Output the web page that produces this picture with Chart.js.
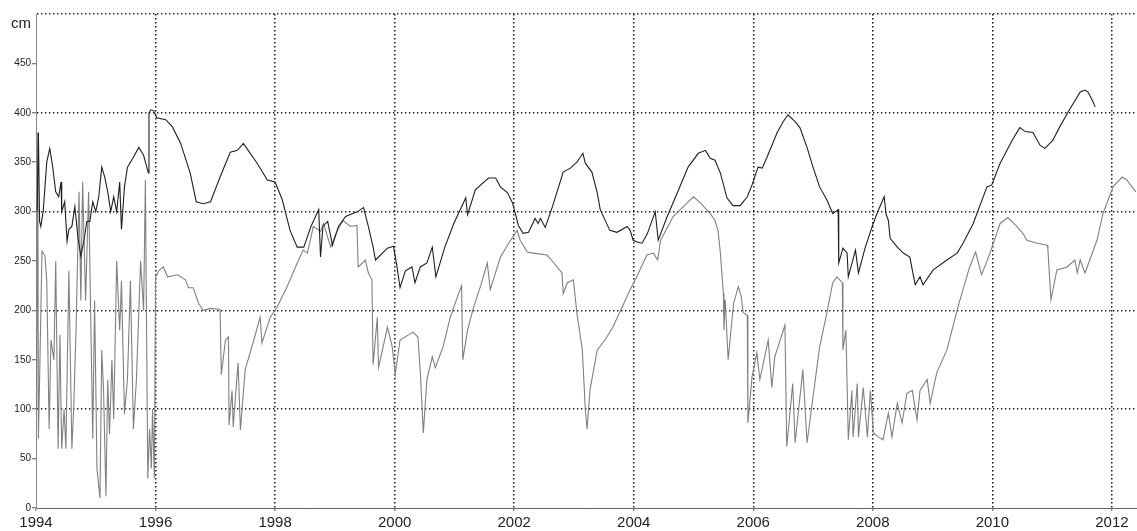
<!DOCTYPE html>
<html>
<head>
<meta charset="utf-8">
<script src="https://cdn.jsdelivr.net/npm/chart.js@4/dist/chart.umd.min.js"></script>
<style>
  html, body { margin: 0; padding: 0; background: #fff; }
  #wrap { width: 1137px; height: 531px; position: relative; }
</style>
</head>
<body>
<div id="wrap"><canvas id="levelChart"></canvas></div>
<script>
// axis ticks
const yearTicks = [1994, 1996, 1998, 2000, 2002, 2004, 2006, 2008, 2010, 2012];
const levelTicks = [0, 50, 100, 150, 200, 250, 300, 350, 400, 450, 500];

// upper (dark) series
const yearsUpper = [
  1994.02, 1994.04, 1994.06, 1994.08, 1994.12, 1994.18, 1994.23, 1994.28, 1994.33, 1994.38,
  1994.42, 1994.43, 1994.48, 1994.52, 1994.55, 1994.60, 1994.65, 1994.70, 1994.75, 1994.80,
  1994.85, 1994.90, 1994.95, 1995.00, 1995.05, 1995.10, 1995.15, 1995.20, 1995.25, 1995.30,
  1995.35, 1995.40, 1995.43, 1995.48, 1995.53, 1995.62, 1995.72, 1995.80, 1995.88, 1995.89,
  1995.92, 1995.97, 1996.02, 1996.17, 1996.28, 1996.42, 1996.58, 1996.68, 1996.80, 1996.92,
  1997.08, 1997.25, 1997.37, 1997.47, 1997.55, 1997.70, 1997.87, 1998.00, 1998.12, 1998.25,
  1998.37, 1998.48, 1998.60, 1998.73, 1998.76, 1998.80, 1998.88, 1998.96, 1999.06, 1999.18,
  1999.38, 1999.48, 1999.56, 1999.64, 1999.68, 1999.88, 1999.98, 2000.04, 2000.09, 2000.18,
  2000.29, 2000.34, 2000.43, 2000.54, 2000.63, 2000.69, 2000.84, 2000.99, 2001.19, 2001.22,
  2001.35, 2001.57, 2001.69, 2001.77, 2001.89, 2001.97, 2002.02, 2002.07, 2002.15, 2002.24,
  2002.35, 2002.40, 2002.44, 2002.52, 2002.64, 2002.82, 2002.94, 2003.05, 2003.15, 2003.19,
  2003.30, 2003.39, 2003.44, 2003.60, 2003.72, 2003.89, 2003.94, 2003.99, 2004.07, 2004.14,
  2004.23, 2004.36, 2004.41, 2004.56, 2004.73, 2004.91, 2005.08, 2005.20, 2005.28, 2005.36,
  2005.45, 2005.56, 2005.66, 2005.78, 2005.90, 2005.98, 2006.08, 2006.15, 2006.23, 2006.40,
  2006.50, 2006.58, 2006.70, 2006.78, 2006.90, 2007.00, 2007.11, 2007.23, 2007.33, 2007.42,
  2007.43, 2007.50, 2007.57, 2007.59, 2007.71, 2007.76, 2007.87, 2007.99, 2008.07, 2008.19,
  2008.22, 2008.26, 2008.29, 2008.41, 2008.51, 2008.62, 2008.67, 2008.71, 2008.79, 2008.84,
  2009.01, 2009.24, 2009.41, 2009.51, 2009.68, 2009.91, 2009.99, 2010.13, 2010.33, 2010.46,
  2010.55, 2010.68, 2010.80, 2010.88, 2011.01, 2011.13, 2011.27, 2011.47, 2011.55, 2011.60,
  2011.67, 2011.72
];
const levelsUpper = [
  300, 380, 290, 285, 300, 350, 364, 345, 320, 315,
  330, 300, 310, 270, 282, 285, 305, 275, 255, 270,
  290, 290, 310, 300, 315, 345, 335, 320, 300, 315,
  300, 330, 282, 325, 345, 354, 365, 357, 339, 400,
  403, 402, 395, 393, 386, 369, 339, 310, 308, 310,
  335, 360, 362, 369, 362, 349, 332, 330, 312, 281,
  264, 264, 285, 302, 254, 285, 290, 266, 285, 295,
  300, 304, 285, 264, 251, 263, 265, 244, 223, 240,
  244, 228, 244, 248, 264, 234, 264, 288, 314, 297,
  322, 334, 334, 325, 319, 309, 298, 286, 278, 279,
  293, 288, 293, 284, 305, 340, 344, 350, 359, 349,
  340, 319, 302, 281, 279, 285, 281, 271, 269, 268,
  278, 300, 271, 295, 319, 345, 359, 362, 354, 352,
  339, 314, 306, 306, 315, 327, 345, 344, 355, 380,
  391, 398, 391, 385, 365, 345, 325, 312, 298, 302,
  248, 263, 258, 234, 261, 238, 263, 285, 298, 315,
  298, 291, 273, 264, 258, 254, 238, 226, 234, 226,
  241, 251, 258, 268, 288, 325, 327, 349, 372, 385,
  381, 380, 367, 364, 372, 386, 401, 421, 423, 421,
  413, 406
];

// lower (grey) series
const yearsLower = [
  1994.01, 1994.03, 1994.04, 1994.06, 1994.10, 1994.15, 1994.18, 1994.22, 1994.25, 1994.30,
  1994.33, 1994.37, 1994.40, 1994.43, 1994.47, 1994.50, 1994.55, 1994.60, 1994.63, 1994.67,
  1994.72, 1994.75, 1994.78, 1994.83, 1994.88, 1994.95, 1994.98, 1995.02, 1995.07, 1995.10,
  1995.13, 1995.17, 1995.20, 1995.23, 1995.27, 1995.30, 1995.35, 1995.40, 1995.43, 1995.48,
  1995.53, 1995.58, 1995.63, 1995.68, 1995.75, 1995.80, 1995.83, 1995.87, 1995.90, 1995.93,
  1995.95, 1995.98, 1996.00, 1996.05, 1996.13, 1996.20, 1996.37, 1996.50, 1996.55, 1996.63,
  1996.72, 1996.80, 1996.92, 1997.08, 1997.10, 1997.17, 1997.22, 1997.23, 1997.28, 1997.30,
  1997.38, 1997.42, 1997.50, 1997.63, 1997.75, 1997.78, 1997.92, 1998.03, 1998.20, 1998.37,
  1998.47, 1998.54, 1998.64, 1998.76, 1998.81, 1998.93, 1999.04, 1999.14, 1999.26, 1999.37,
  1999.39, 1999.51, 1999.56, 1999.62, 1999.64, 1999.71, 1999.73, 1999.88, 1999.96, 2000.01,
  2000.09, 2000.31, 2000.39, 2000.43, 2000.48, 2000.54, 2000.63, 2000.68, 2000.81, 2000.93,
  2001.07, 2001.12, 2001.14, 2001.22, 2001.32, 2001.44, 2001.55, 2001.60, 2001.77, 2001.94,
  2002.05, 2002.10, 2002.22, 2002.32, 2002.55, 2002.65, 2002.80, 2002.82, 2002.89, 2002.99,
  2003.05, 2003.14, 2003.19, 2003.22, 2003.27, 2003.39, 2003.52, 2003.65, 2003.94, 2004.05,
  2004.22, 2004.33, 2004.40, 2004.45, 2004.66, 2004.83, 2005.00, 2005.11, 2005.28, 2005.36,
  2005.41, 2005.45, 2005.50, 2005.51, 2005.53, 2005.58, 2005.67, 2005.75, 2005.80, 2005.83,
  2005.90, 2005.91, 2005.98, 2006.06, 2006.11, 2006.25, 2006.31, 2006.36, 2006.53, 2006.56,
  2006.66, 2006.70, 2006.83, 2006.90, 2007.11, 2007.23, 2007.33, 2007.40, 2007.49, 2007.50,
  2007.55, 2007.59, 2007.65, 2007.67, 2007.74, 2007.76, 2007.84, 2007.91, 2007.96, 2008.01,
  2008.09, 2008.17, 2008.26, 2008.32, 2008.41, 2008.49, 2008.57, 2008.66, 2008.74, 2008.79,
  2008.91, 2008.96, 2009.07, 2009.24, 2009.41, 2009.46, 2009.62, 2009.72, 2009.82, 2009.96,
  2010.13, 2010.26, 2010.41, 2010.51, 2010.58, 2010.75, 2010.92, 2010.93, 2010.98, 2011.08,
  2011.25, 2011.38, 2011.42, 2011.47, 2011.55, 2011.63, 2011.75, 2011.85, 2012.02, 2012.17,
  2012.25, 2012.40
];
const levelsLower = [
  100, 380, 70, 130, 260, 255, 230, 80, 170, 150,
  250, 60, 175, 60, 100, 60, 240, 60, 100, 180,
  320, 210, 330, 210, 320, 70, 210, 40, 10, 160,
  120, 12, 130, 75, 150, 90, 250, 180, 230, 95,
  130, 230, 80, 130, 250, 200, 332, 30, 80, 40,
  100, 30, 233, 240, 244, 234, 236, 231, 223, 223,
  207, 200, 202, 201, 135, 170, 173, 84, 119, 82,
  147, 79, 140, 167, 193, 167, 193, 203, 224, 248,
  261, 258, 285, 280, 288, 264, 281, 291, 285, 286,
  244, 251, 238, 231, 145, 193, 142, 183, 163, 135,
  170, 178, 173, 137, 76, 130, 153, 142, 163, 193,
  217, 225, 150, 180, 203, 225, 248, 221, 254, 271,
  281, 271, 259, 258, 256, 249, 238, 217, 228, 231,
  197, 160, 100, 80, 120, 160, 170, 183, 221, 234,
  256, 258, 251, 271, 295, 305, 315, 309, 298, 291,
  281, 258, 217, 180, 211, 150, 207, 224, 214, 198,
  195, 86, 133, 157, 130, 170, 122, 153, 185, 62,
  126, 66, 140, 66, 163, 197, 228, 234, 228, 160,
  180, 69, 119, 72, 126, 72, 122, 72, 119, 76,
  72, 69, 96, 72, 106, 86, 116, 119, 89, 119,
  130, 106, 137, 160, 200, 211, 244, 259, 236, 258,
  288, 294, 285, 278, 271, 268, 266, 261, 211, 241,
  244, 251, 238, 251, 238, 251, 271, 298, 325, 335,
  332, 320
];

const xMin = 1994;
const xMax = 2012.42;
const yMin = 0;
const yMax = 500;

function toPoints(xs, ys) {
    return xs.map((x, i) => ({ x: x, y: ys[i] }));
}

// "cm" unit label in the top-left corner
const unitLabel = {
    id: 'unitLabel',
    afterDraw(chart) {
        const ctx = chart.ctx;
        ctx.save();
        ctx.fillStyle = '#222';
        ctx.font = '15px "Liberation Sans", Arial, sans-serif';
        ctx.textBaseline = 'alphabetic';
        ctx.fillText('cm', 11, 28);
        ctx.restore();
    }
};

Chart.defaults.font.family = '"Liberation Sans", Arial, sans-serif';

const dots = [1.4, 2.6];

const ctx = document.getElementById('levelChart').getContext('2d');
new Chart(ctx, {
    type: 'line',
    data: {
        datasets: [
            {
                label: 'upper',
                data: toPoints(yearsUpper, levelsUpper),
                borderColor: '#1f1f1f',
                borderWidth: 1.1,
                pointRadius: 0,
                tension: 0
            },
            {
                label: 'lower',
                data: toPoints(yearsLower, levelsLower),
                borderColor: '#808080',
                borderWidth: 1.1,
                pointRadius: 0,
                tension: 0
            }
        ]
    },
    options: {
        responsive: true,
        maintainAspectRatio: false,
        animation: false,
        layout: { padding: { top: 14, right: 0, left: 0, bottom: 0 } },
        plugins: {
            legend: { display: false },
            tooltip: { enabled: false }
        },
        scales: {
            x: {
                type: 'linear',
                min: xMin,
                max: xMax,
                afterBuildTicks: scale => {
                    scale.ticks = yearTicks.map(v => ({ value: v }));
                },
                afterFit: scale => { scale.height = 23; },
                ticks: {
                    autoSkip: false,
                    maxRotation: 0,
                    padding: 3,
                    color: '#222',
                    font: { size: 15 },
                    callback: value => String(value)
                },
                grid: {
                    color: c => (c.tick && c.tick.value !== 1994) ? '#1a1a1a' : 'transparent',
                    lineWidth: 1.5,
                    tickLength: 3,
                    tickColor: '#555',
                    tickWidth: 1,
                    tickBorderDash: []
                },
                border: { display: true, color: '#666', width: 1, dash: dots }
            },
            y: {
                type: 'linear',
                min: yMin,
                max: yMax,
                afterBuildTicks: scale => {
                    scale.ticks = levelTicks.map(v => ({ value: v }));
                },
                afterFit: scale => { scale.width = 36; },
                ticks: {
                    padding: 1,
                    color: '#222',
                    font: { size: 10 },
                    callback: value => value === yMax ? '' : String(value)
                },
                grid: {
                    color: c => {
                        const v = c.tick ? c.tick.value : 0;
                        return (v > 0 && v % 100 === 0) ? '#1a1a1a' : 'transparent';
                    },
                    lineWidth: 1.5,
                    tickLength: 4,
                    tickColor: c => (c.tick && c.tick.value === yMax) ? 'transparent' : '#555',
                    tickWidth: 1,
                    tickBorderDash: []
                },
                border: { display: true, color: '#888', width: 1, dash: dots }
            }
        }
    },
    plugins: [unitLabel]
});
</script>
</body>
</html>
